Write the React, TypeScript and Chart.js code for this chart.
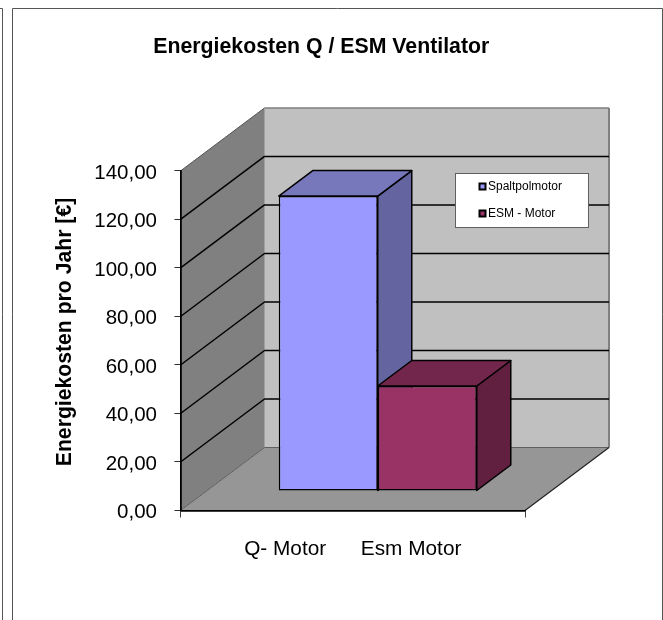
import React, { useEffect, useRef } from "react";
import { Chart, registerables } from "chart.js";

Chart.register(...registerables);

const titleText = "Energiekosten Q / ESM Ventilator";
const yAxisTitle = "Energiekosten pro Jahr [€]";
const categories = ["Q- Motor      Esm Motor"];
const seriesNames = ["Spaltpolmotor", "ESM - Motor"];
const spaltpolValues = [121.6];
const esmValues = [43.3];
const yMin = 0;
const yMax = 140;
const yStep = 20;

const FONT = "'Liberation Sans', Arial, sans-serif";
const frontColors = ["#9999FF", "#993366"];
const topColors = ["#7777BB", "#73264C"];
const sideColors = ["#6464A0", "#612040"];
const WALL = { dx: 84, dy: -63 };
const BAR_OFFSET = { dx: 25, dy: -19.5 };
const BAR_DEPTH = { dx: 34, dy: -25.5 };

function poly(ctx: CanvasRenderingContext2D, pts: number[][], fill?: string, stroke?: string, lw = 1) {
  ctx.beginPath();
  pts.forEach((p, i) => (i ? ctx.lineTo(p[0], p[1]) : ctx.moveTo(p[0], p[1])));
  ctx.closePath();
  if (fill) {
    ctx.fillStyle = fill;
    ctx.fill();
  }
  if (stroke) {
    ctx.strokeStyle = stroke;
    ctx.lineWidth = lw;
    ctx.lineJoin = "round";
    ctx.stroke();
  }
}

function line(ctx: CanvasRenderingContext2D, x1: number, y1: number, x2: number, y2: number, c: string, lw: number) {
  ctx.beginPath();
  ctx.moveTo(x1, y1);
  ctx.lineTo(x2, y2);
  ctx.strokeStyle = c;
  ctx.lineWidth = lw;
  ctx.stroke();
}

const scene3d = {
  id: "scene3d",
  afterLayout(chart: any) {
    if (chart.titleBlock) chart.titleBlock.left = 117.6;
  },
  beforeDraw(chart: any) {
    const { ctx, chartArea: a, scales } = chart;
    const y = scales.y;
    ctx.save();
    // page frames
    ctx.fillStyle = "#FFFFFF";
    ctx.fillRect(0, 0, chart.width, chart.height);
    ctx.strokeStyle = "#555555";
    ctx.lineWidth = 1;
    ctx.beginPath();
    ctx.moveTo(0, 8.5);
    ctx.lineTo(2.5, 8.5);
    ctx.lineTo(2.5, 620);
    ctx.moveTo(12.5, 620);
    ctx.lineTo(12.5, 8.5);
    ctx.lineTo(662.5, 8.5);
    ctx.lineTo(662.5, 620);
    ctx.stroke();

    const { dx, dy } = WALL;
    const L = a.left, R = a.right, T = a.top, B = a.bottom;
    // floor
    poly(ctx, [[L, B], [R, B], [R + dx, B + dy], [L + dx, B + dy]], "#969696");
    // side wall
    poly(ctx, [[L, T], [L + dx, T + dy], [L + dx, B + dy], [L, B]], "#808080");
    // back wall
    poly(ctx, [[L + dx, T + dy], [R + dx, T + dy], [R + dx, B + dy], [L + dx, B + dy]], "#C0C0C0");
    // wall edges
    line(ctx, L, T, L + dx, T + dy, "#505050", 1);
    line(ctx, L + dx, T + dy, R + dx, T + dy, "#505050", 1);
    line(ctx, R + dx, T + dy, R + dx, B + dy, "#808080", 2);
    line(ctx, L + dx, T + dy, L + dx, B + dy, "#A0A0A0", 1);
    line(ctx, L, B, L + dx, B + dy, "#606060", 1);
    line(ctx, L + dx, B + dy, R + dx, B + dy, "#606060", 1);
    line(ctx, R, B, R + dx, B + dy, "#202020", 1.2);
    // gridlines on the walls
    y.ticks.forEach((t: any) => {
      if (t.value === yMin || t.value === yMax) return;
      const py = y.getPixelForValue(t.value);
      ctx.lineJoin = "round";
      ctx.beginPath();
      ctx.moveTo(L, py);
      ctx.lineTo(L + dx, py + dy);
      ctx.lineTo(R + dx, py + dy);
      ctx.strokeStyle = "#000000";
      ctx.lineWidth = 1.5;
      ctx.stroke();
    });
    // y axis title
    ctx.translate(65, 332);
    ctx.rotate(-Math.PI / 2);
    ctx.fillStyle = "#000000";
    ctx.font = `bold 21.2px ${FONT}`;
    ctx.textAlign = "center";
    ctx.textBaseline = "middle";
    ctx.fillText(yAxisTitle, 0, 0);
    ctx.restore();
  },
  beforeDatasetsDraw(chart: any) {
    const { ctx } = chart;
    ctx.save();
    ctx.translate(BAR_OFFSET.dx, BAR_OFFSET.dy);
    const { dx, dy } = BAR_DEPTH;
    chart.data.datasets.forEach((_: any, i: number) => {
      const bar = chart.getDatasetMeta(i).data[0];
      const l = bar.x - bar.width / 2;
      const r = bar.x + bar.width / 2;
      const t = bar.y;
      const b = bar.base;
      poly(ctx, [[r, t], [r + dx, t + dy], [r + dx, b + dy], [r, b]], sideColors[i], "#000000", 1.5);
      poly(ctx, [[l, t], [l + dx, t + dy], [r + dx, t + dy], [r, t]], topColors[i], "#000000", 1.5);
    });
  },
  afterDatasetsDraw(chart: any) {
    const { ctx } = chart;
    ctx.restore();
    // legend
    ctx.save();
    ctx.fillStyle = "#FFFFFF";
    ctx.strokeStyle = "#606060";
    ctx.lineWidth = 1;
    ctx.fillRect(455.5, 173.5, 133, 54);
    ctx.strokeRect(455.5, 173.5, 133, 54);
    ctx.font = `12px ${FONT}`;
    ctx.textAlign = "left";
    ctx.textBaseline = "middle";
    chart.data.datasets.forEach((ds: any, i: number) => {
      const cy = 187 + i * 27;
      ctx.fillStyle = ds.backgroundColor;
      ctx.strokeStyle = "#000000";
      ctx.lineWidth = 2;
      ctx.fillRect(479.5, cy - 3.5, 6, 6);
      ctx.strokeRect(479.5, cy - 3.5, 6, 6);
      ctx.fillStyle = "#000000";
      ctx.fillText(ds.label, 488, cy);
    });
    ctx.restore();
  },
};

export default function App() {
  const ref = useRef<HTMLCanvasElement>(null);
  useEffect(() => {
    const chart = new Chart(ref.current as HTMLCanvasElement, {
      type: "bar",
      data: {
        labels: categories,
        datasets: [
          { label: seriesNames[0], data: spaltpolValues, backgroundColor: frontColors[0], borderColor: "#000000", borderWidth: 1.5, borderSkipped: false },
          { label: seriesNames[1], data: esmValues, backgroundColor: frontColors[1], borderColor: "#000000", borderWidth: 1.5, borderSkipped: false },
        ],
      },
      options: {
        responsive: false,
        animation: false,
        devicePixelRatio: 1,
        layout: { padding: { left: 0, right: 138, top: 0, bottom: 0 } },
        datasets: { bar: { barPercentage: 1, categoryPercentage: 0.5748 } },
        plugins: {
          legend: { display: false },
          tooltip: { enabled: false },
          title: {
            display: true,
            text: titleText,
            color: "#000000",
            font: { family: FONT, size: 21.3, weight: "bold", lineHeight: 1.2 },
            padding: { top: 34.2, bottom: 111.2 },
          },
        },
        scales: {
          x: {
            grid: { drawOnChartArea: false, color: "#000000", tickLength: 7, tickColor: "#404040" },
            border: { color: "#000000", width: 1.8 },
            ticks: { color: "#000000", font: { family: FONT, size: 20.8 }, padding: 19, maxRotation: 0, autoSkip: false },
            afterFit: (s: any) => { s.height = 109.5; },
          },
          y: {
            min: yMin,
            max: yMax,
            grid: { drawOnChartArea: false, color: "#000000", tickLength: 6, tickColor: "#303030" },
            border: { color: "#000000", width: 1.8 },
            ticks: {
              stepSize: yStep,
              color: "#000000",
              font: { family: FONT, size: 20.5 },
              padding: 17.5,
              labelOffset: 2,
              callback: (v: any) => Number(v).toFixed(2).replace(".", ","),
            },
            afterFit: (s: any) => { s.width = 180.5; },
          },
        },
      },
      plugins: [scene3d],
    } as any);
    return () => chart.destroy();
  }, []);
  return (
    <canvas
      ref={ref}
      width={663}
      height={620}
      style={{ position: "absolute", left: 0, top: 0, display: "block" }}
    />
  );
}
